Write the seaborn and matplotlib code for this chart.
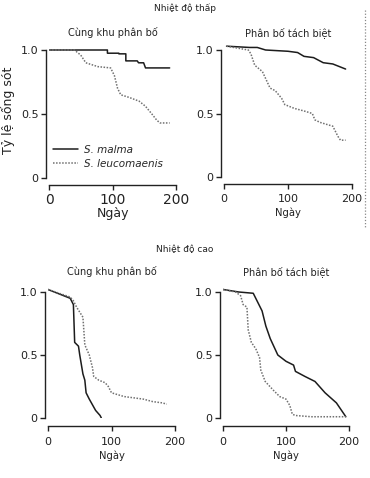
import matplotlib
matplotlib.use("Agg")
import matplotlib.pyplot as plt
import numpy as np
import pandas as pd
import seaborn as sns
from matplotlib.lines import Line2D

sns.set_style("ticks")
plt.rcParams["font.family"] = ["DejaVu Sans"]

SPECIES = ["S. malma", "S. leucomaenis"]

# Nhiet do thap - Cung khu phan bo
low_same_malma_day = [0, 92, 92, 110, 110, 121, 121, 139, 141, 149, 152, 190]
low_same_malma_surv = [1.0, 1.0, 0.975, 0.975, 0.97, 0.97, 0.915, 0.915, 0.90, 0.90, 0.86, 0.86]
low_same_leuco_day = [0, 40, 50, 58, 77, 97, 103, 108, 113, 126, 142, 152, 162, 170, 175, 190]
low_same_leuco_surv = [1.0, 1.0, 0.96, 0.90, 0.87, 0.86, 0.80, 0.70, 0.65, 0.63, 0.60, 0.56, 0.50, 0.45, 0.43, 0.43]

# Nhiet do thap - Phan bo tach biet
low_sep_malma_day = [4, 40, 52, 65, 100, 115, 125, 140, 155, 170, 180, 190]
low_sep_malma_surv = [1.03, 1.02, 1.02, 1.0, 0.99, 0.98, 0.95, 0.94, 0.90, 0.89, 0.87, 0.85]
low_sep_leuco_day = [4, 38, 42, 48, 60, 72, 80, 90, 95, 110, 125, 138, 142, 150, 170, 178, 182, 190]
low_sep_leuco_surv = [1.03, 1.0, 0.97, 0.88, 0.83, 0.70, 0.68, 0.62, 0.57, 0.54, 0.52, 0.50, 0.45, 0.43, 0.40, 0.32, 0.29, 0.29]

# Nhiet do cao - Cung khu phan bo
high_same_malma_day = [0, 20, 35, 40, 42, 48, 50, 55, 58, 60, 65, 75, 82, 84]
high_same_malma_surv = [1.02, 0.98, 0.95, 0.90, 0.60, 0.57, 0.50, 0.35, 0.30, 0.20, 0.15, 0.06, 0.02, 0.0]
high_same_leuco_day = [0, 35, 40, 45, 55, 58, 65, 70, 72, 80, 90, 95, 100, 120, 150, 165, 180, 187]
high_same_leuco_surv = [1.02, 0.96, 0.93, 0.88, 0.80, 0.58, 0.50, 0.40, 0.33, 0.30, 0.28, 0.25, 0.20, 0.17, 0.15, 0.13, 0.12, 0.11]

# Nhiet do cao - Phan bo tach biet
high_sep_malma_day = [0, 25, 48, 55, 62, 68, 75, 87, 100, 112, 115, 130, 146, 162, 180, 195]
high_sep_malma_surv = [1.02, 1.0, 0.99, 0.92, 0.85, 0.73, 0.63, 0.50, 0.45, 0.42, 0.37, 0.33, 0.29, 0.20, 0.12, 0.01]
high_sep_leuco_day = [0, 20, 28, 32, 38, 40, 45, 52, 58, 60, 67, 80, 90, 100, 106, 110, 115, 140, 195]
high_sep_leuco_surv = [1.02, 1.0, 0.97, 0.90, 0.88, 0.70, 0.60, 0.55, 0.48, 0.38, 0.29, 0.22, 0.17, 0.15, 0.10, 0.03, 0.02, 0.01, 0.01]

panels = {
    "low_same": (low_same_malma_day, low_same_malma_surv, low_same_leuco_day, low_same_leuco_surv),
    "low_sep": (low_sep_malma_day, low_sep_malma_surv, low_sep_leuco_day, low_sep_leuco_surv),
    "high_same": (high_same_malma_day, high_same_malma_surv, high_same_leuco_day, high_same_leuco_surv),
    "high_sep": (high_sep_malma_day, high_sep_malma_surv, high_sep_leuco_day, high_sep_leuco_surv),
}

W, H = 370, 478
fig = plt.figure(figsize=(W / 100, H / 100), dpi=100)

palette = {SPECIES[0]: "#1c1c1c", SPECIES[1]: "#707070"}
dashes = {SPECIES[0]: "", SPECIES[1]: (1, 1)}


def make_axes(x0, x200, y0, y1):
    left = x0 / W
    width = (x200 - x0) / W
    bottom = (H - y0) / H
    height = (y0 - y1) * 1.06 / H
    return fig.add_axes([left, bottom, width, height])


# pixel mapping: (x at day 0, x at day 200, y at 0, y at 1.0)
layout = {
    "low_same": (49, 176, 178, 50),
    "low_sep": (224, 352, 177, 50),
    "high_same": (48, 175, 418, 292),
    "high_sep": (223, 349, 418, 292),
}
subtitles = {
    "low_same": "Cùng khu phân bố",
    "low_sep": "Phân bố tách biệt",
    "high_same": "Cùng khu phân bố",
    "high_sep": "Phân bố tách biệt",
}

for key, (md, ms, ld, ls) in panels.items():
    df = pd.concat([
        pd.DataFrame({"day": md, "surv": ms, "species": SPECIES[0]}),
        pd.DataFrame({"day": ld, "surv": ls, "species": SPECIES[1]}),
    ])
    ax = make_axes(*layout[key])
    sns.lineplot(data=df, x="day", y="surv", hue="species", style="species",
                 palette=palette, dashes=dashes, estimator=None, sort=False,
                 linewidth=1.1, ax=ax, legend=(key == "low_same"))
    ax.set_xlim(0, 200)
    ax.set_ylim(0, 1.06)
    ax.set_xticks([0, 100, 200])
    ax.set_yticks([0, 0.5, 1.0], labels=["0", "0.5", "1.0"])
    sns.despine(ax=ax)
    ax.spines["left"].set_bounds(0, 1.0)
    ax.spines["bottom"].set_bounds(0, 200)
    ax.spines["left"].set_position(("outward", 2.5))
    low = key.startswith("low")
    ax.spines["bottom"].set_position(("outward", 5 if low else 6))
    for sp in ("left", "bottom"):
        ax.spines[sp].set_linewidth(1.0)
        ax.spines[sp].set_color("#222222")
    ax.tick_params(length=3.5, width=1.0, color="#222222", labelsize=8, pad=1.5, labelcolor="#222222")
    ax.set_ylabel("")
    big = key == "low_same"
    if big:
        ax.tick_params(axis="x", labelsize=10, pad=2)
    else:
        ax.tick_params(axis="x", pad=4.5 if not low else 4)
    ax.set_xlabel("Ngày", fontsize=9 if big else 7.2, labelpad=0 if big else 2.5, color="#222222")
    ax.set_title(subtitles[key], fontsize=7, pad=4.5 if low else 6.5, color="#222222")
    if big:
        ax.set_ylabel("Tỷ lệ sống sót", fontsize=9, labelpad=4, color="#222222")
        ax.legend(frameon=False, loc="lower left", bbox_to_anchor=(-0.04, 0.0),
                  prop={"style": "italic", "size": 7.5}, handlelength=2.4,
                  handletextpad=0.5, labelspacing=0.35)

fig.text(185 / W, 1 - 8 / H, "Nhiệt độ thấp", ha="center", va="center", fontsize=6.5, color="#222222")
fig.text(185 / W, 1 - 250 / H, "Nhiệt độ cao", ha="center", va="center", fontsize=6.5, color="#222222")
fig.add_artist(Line2D([365 / W, 365 / W], [1 - 10 / H, 1 - 228 / H], transform=fig.transFigure,
                      color="#888888", linestyle=(0, (1, 1.5)), linewidth=0.9))

fig.savefig("out.png", dpi=100)
